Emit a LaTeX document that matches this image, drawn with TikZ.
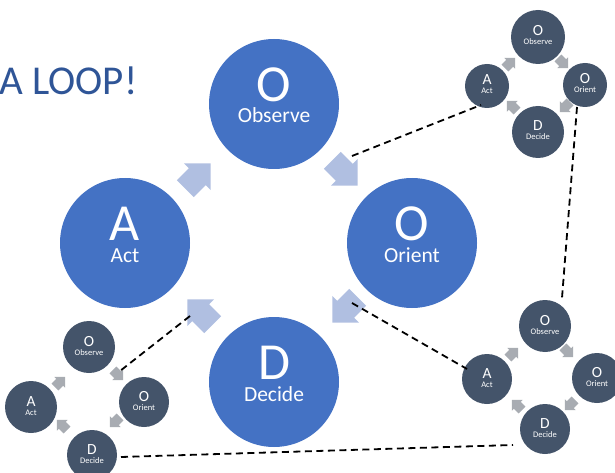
\documentclass[tikz,border=0pt]{standalone}
\usepackage{fontspec}
\setmainfont{Carlito}
\usetikzlibrary{calc}
\definecolor{bigblue}{RGB}{68,114,196}
\definecolor{arrowblue}{RGB}{176,191,225}
\definecolor{titleblue}{RGB}{47,85,151}
\definecolor{slate}{RGB}{68,84,106}
\definecolor{arrowgray}{RGB}{168,172,178}
\tikzset{
  bigc/.style={circle, fill=bigblue, minimum size=130pt, inner sep=0pt},
  smallc/.style={circle, fill=slate, inner sep=0pt},
  bigletter/.style={anchor=base, text=white, inner sep=0pt, font=\fontsize{52}{52}\selectfont},
  biglabel/.style={anchor=base, text=white, inner sep=0pt, font=\fontsize{21.5}{22}\selectfont},
  smallletter/.style={anchor=base, text=white, inner sep=0pt, font=\fontsize{15.5}{16}\selectfont},
  smalllabel/.style={anchor=base, text=white, inner sep=0pt, font=\fontsize{8.5}{9}\selectfont},
  dashline/.style={black, line width=1.8pt, dash pattern=on 7pt off 4.5pt},
  pics/barrow/.style={code={
    \fill[#1] (-18,-12) -- (-1,-12) -- (-1,-19) -- (18,0) -- (-1,19) -- (-1,12) -- (-18,12) -- cycle;
  }}
}
\newcommand{\BigLoopNode}[5]{%
  \node[bigc] (#1) at (#2,#3) {};
  \node[bigletter] (#1-l) at (#2,#3-2.5) {#4};
  \node[biglabel] (#1-t) at (#2,#3+19) {#5};
}
\newcommand{\SmallLoopNode}[6]{%
  \node[smallc, minimum size=#4pt] (#1) at (#2,#3) {};
  \node[smallletter] (#1-l) at (#2,#3-1) {#5};
  \node[smalllabel] (#1-t) at (#2,#3+8) {#6};
}
\begin{document}
\begin{tikzpicture}[x=1pt,y=-1pt]
\useasboundingbox (0,0) rectangle (615,473);

% title
\node[anchor=base west, inner sep=0pt, text=titleblue, font=\fontsize{41}{41}\selectfont] (title) at (-1,95) {A LOOP!};

% big loop
\BigLoopNode{Ob}{274}{104}{O}{Observe}
\BigLoopNode{Or}{412}{243}{O}{Orient}
\BigLoopNode{De}{274}{382}{D}{Decide}
\BigLoopNode{Ac}{125}{243}{A}{Act}

\pic[rotate=45]   at (198,176) {barrow=arrowblue};
\pic[rotate=-45]  at (345,173) {barrow=arrowblue};
\pic[rotate=-135] at (345,310) {barrow=arrowblue};
\pic[rotate=135]  at (200,312) {barrow=arrowblue};

% top-right loop
\SmallLoopNode{TO}{538}{37}{54}{O}{Observe}
\SmallLoopNode{TA}{487}{86}{44}{A}{Act}
\SmallLoopNode{TR}{585}{85}{44}{O}{Orient}
\SmallLoopNode{TD}{538}{132}{52}{D}{Decide}
\pic[rotate=45, scale=0.4]   at (510,63)  {barrow=arrowgray};
\pic[rotate=-45, scale=0.4]  at (563,63)  {barrow=arrowgray};
\pic[rotate=-135, scale=0.4] at (565,107) {barrow=arrowgray};
\pic[rotate=135, scale=0.4]  at (512,106) {barrow=arrowgray};

% bottom-right loop
\SmallLoopNode{BO}{545}{326}{52}{O}{Observe}
\SmallLoopNode{BA}{487}{379}{50}{A}{Act}
\SmallLoopNode{BR}{597}{378}{50}{O}{Orient}
\SmallLoopNode{BD}{545}{429}{50}{D}{Decide}
\pic[rotate=45, scale=0.4]   at (513,353) {barrow=arrowgray};
\pic[rotate=-45, scale=0.4]  at (568,352) {barrow=arrowgray};
\pic[rotate=-135, scale=0.4] at (570,405) {barrow=arrowgray};
\pic[rotate=135, scale=0.4]  at (517,405) {barrow=arrowgray};

% bottom-left loop
\SmallLoopNode{LO}{89}{347}{52}{O}{Observe}
\SmallLoopNode{LA}{31}{407}{52}{A}{Act}
\SmallLoopNode{LR}{144}{402}{50}{O}{Orient}
\SmallLoopNode{LD}{92}{455}{50}{D}{Decide}
\pic[rotate=45, scale=0.4]   at (60,382)  {barrow=arrowgray};
\pic[rotate=-45, scale=0.4]  at (118,375) {barrow=arrowgray};
\pic[rotate=-135, scale=0.4] at (115,422) {barrow=arrowgray};
\pic[rotate=135, scale=0.4]  at (62,425)  {barrow=arrowgray};

% dashed connectors
\coordinate (d1a) at (352,156);
\coordinate (d1b) at (481,105);
\coordinate (d2a) at (577,107);
\coordinate (d2b) at (562,298);
\coordinate (d3a) at (352,303);
\coordinate (d3b) at (467,369);
\coordinate (d4a) at (190,316);
\coordinate (d4b) at (120,371);
\coordinate (d5a) at (121,457);
\coordinate (d5b) at (513,445);
\draw[dashline] (d1a) -- (d1b);
\draw[dashline] (d2a) -- (d2b);
\draw[dashline] (d3a) -- (d3b);
\draw[dashline] (d4a) -- (d4b);
\draw[dashline] (d5a) -- (d5b);
\end{tikzpicture}
\end{document}
